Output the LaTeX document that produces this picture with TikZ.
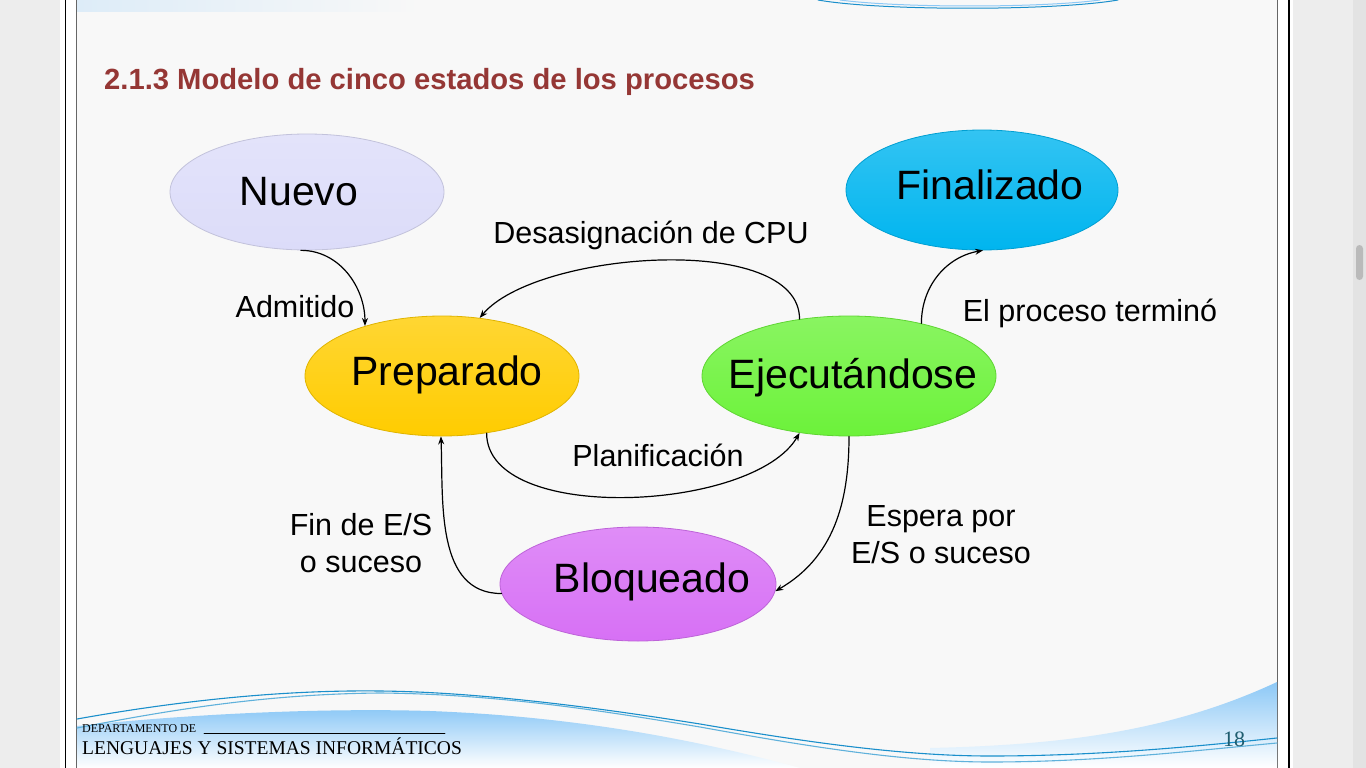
\documentclass[tikz,border=0pt]{standalone}
\usepackage{fontspec}
\setmainfont{Liberation Sans}
\newfontfamily\piefont{Liberation Serif}
\usetikzlibrary{shapes.geometric,arrows.meta}
\definecolor{fondo}{HTML}{F8F8F8}
\definecolor{marco}{HTML}{EDEDED}
\definecolor{titulo}{HTML}{953735}
\definecolor{onda}{HTML}{1A8FCB}
\definecolor{ondaclara}{HTML}{8CC8F6}
\definecolor{cnuevo}{HTML}{DCDCF9}
\definecolor{cfin}{HTML}{00B5EF}
\definecolor{cprep}{HTML}{FFCC00}
\definecolor{cejec}{HTML}{6CF23A}
\definecolor{cbloq}{HTML}{D770F5}
\definecolor{cpagina}{HTML}{1E5C6E}
\begin{document}
\begin{tikzpicture}[x=1pt, y=1pt, line join=round, line cap=round, >={Stealth[length=8pt,width=6pt]},
	estado/.style={ellipse, inner sep=0pt, line width=0.8pt, draw=#1!88!black, top color=#1!80!white, bottom color=#1},
	texto/.style={font=\fontsize{41}{49}\selectfont},
	etiq/.style={font=\fontsize{30.5}{37}\selectfont, align=center, inner sep=0pt},
	flecha/.style={->, line width=1.2pt}]
	\useasboundingbox (0,0) rectangle (1366,-768);
	\fill[marco] (0,0) rectangle (1366,-768);
	\fill[white] (60,0) rectangle (1293,-768);
	\draw[line width=1.5pt] (65.5,0) -- (65.5,-768) (1289,0) -- (1289,-768);
	\fill[fondo] (77,0) rectangle (1277,-768);
	\draw[black!60, line width=1pt] (76.5,0) -- (76.5,-768) (1277.5,0) -- (1277.5,-768);
	\fill[black!11] (1353,0) rectangle (1366,-768);
	\fill[black!27, rounded corners=3.5pt] (1356,-245) rectangle (1363,-280);
	\shade[left color=ondaclara!25!fondo, right color=fondo] (77,0) rectangle (420,-12);
	\draw[onda, line width=1pt] (818,0) .. controls (880,-11) and (1055,-11) .. (1118,0);
	\draw[ondaclara, line width=1pt] (840,0) .. controls (900,-8) and (1040,-8) .. (1100,0);
	\shade[top color=ondaclara, bottom color=white] (77,-768) -- (77,-726) .. controls (200,-713) and (330,-708) .. (430,-711)
		.. controls (560,-716) and (680,-735) .. (800,-768) -- cycle;
	\shade[top color=ondaclara, bottom color=white] (1277,-768) -- (1277,-682) .. controls (1170,-732) and (1060,-745) .. (930,-748)
		-- (930,-768) -- cycle;
	\draw[onda, line width=1.1pt] (77,-719) .. controls (200,-697) and (300,-690) .. (380,-691) .. controls (480,-692) and (600,-708) .. (700,-724)
		.. controls (800,-741) and (900,-756) .. (990,-756) .. controls (1100,-756) and (1200,-746) .. (1277,-738);
	\draw[onda!70!white, line width=1.1pt] (77,-728) .. controls (160,-712) and (260,-694) .. (380,-693) .. controls (500,-694) and (610,-712) .. (700,-727)
		.. controls (800,-745) and (900,-762) .. (990,-762) .. controls (1100,-762) and (1200,-750) .. (1277,-743);
	\node[anchor=base west, text=titulo, font=\fontsize{29.2}{35}\selectfont\bfseries, inner sep=0pt] (titulo) at (104,-89)
		{2.1.3 Modelo de cinco estados de los procesos};
	\node[estado=cnuevo, minimum width=274pt, minimum height=116pt, label={[texto, shift={(-8,0)}]center:Nuevo}] (nuevo) at (307,-192) {};
	\node[estado=cfin, minimum width=272pt, minimum height=120pt, label={[texto, shift={(8,5)}]center:Finalizado}] (fin) at (982,-190) {};
	\node[estado=cprep, minimum width=274pt, minimum height=120pt, label={[texto, shift={(5,1)}]center:Preparado}] (prep) at (442,-376) {};
	\node[estado=cejec, minimum width=294pt, minimum height=120pt, label={[texto, shift={(4,-2)}]center:Ejecutándose}] (ejec) at (849,-376) {};
	\node[estado=cbloq, minimum width=276pt, minimum height=114pt, label={[texto, shift={(14,2)}]center:Bloqueado}] (bloq) at (638,-584) {};
	\node[etiq] (admitido) at (295,-307) {Admitido};
	\node[etiq] (desasig) at (651,-235) {Desasignación de CPU};
	\node[etiq] (termino) at (1090,-313) {El proceso terminó};
	\node[etiq] (planif) at (658,-455) {Planificación};
	\node[etiq] (finES) at (361,-543) {Fin de E/S\\o suceso};
	\node[etiq] (espera) at (941,-535) {Espera por\\E/S o suceso};
	\draw[flecha] (nuevo.-96) to[out=0, in=90] (prep.147);
	\draw[flecha] (ejec.131) to[out=90, in=50, looseness=0.7] (prep.57);
	\draw[flecha] (prep.-52) to[out=-90, in=-120, looseness=0.75] (ejec.-131);
	\draw[flecha] (ejec.-90) to[out=-90, in=30] (bloq.-3);
	\draw[flecha] (bloq.184) to[out=180, in=-88] (prep.-91);
	\draw[flecha] (ejec.36) to[out=90, in=190] (fin.-89);
	\node[anchor=base west, inner sep=0pt, font=\piefont\fontsize{12}{14}\selectfont] (depto) at (82,-732) {DEPARTAMENTO DE};
	\draw[line width=0.6pt] (204,-733) -- (445,-733);
	\node[anchor=base west, inner sep=0pt, font=\piefont\fontsize{19.5}{23}\selectfont] (lsi) at (82,-754) {LENGUAJES Y SISTEMAS INFORMÁTICOS};
	\node[anchor=base, inner sep=0pt, text=cpagina, font=\piefont\fontsize{22}{26}\selectfont] (pagina) at (1234,-746) {18};
\end{tikzpicture}
\end{document}
